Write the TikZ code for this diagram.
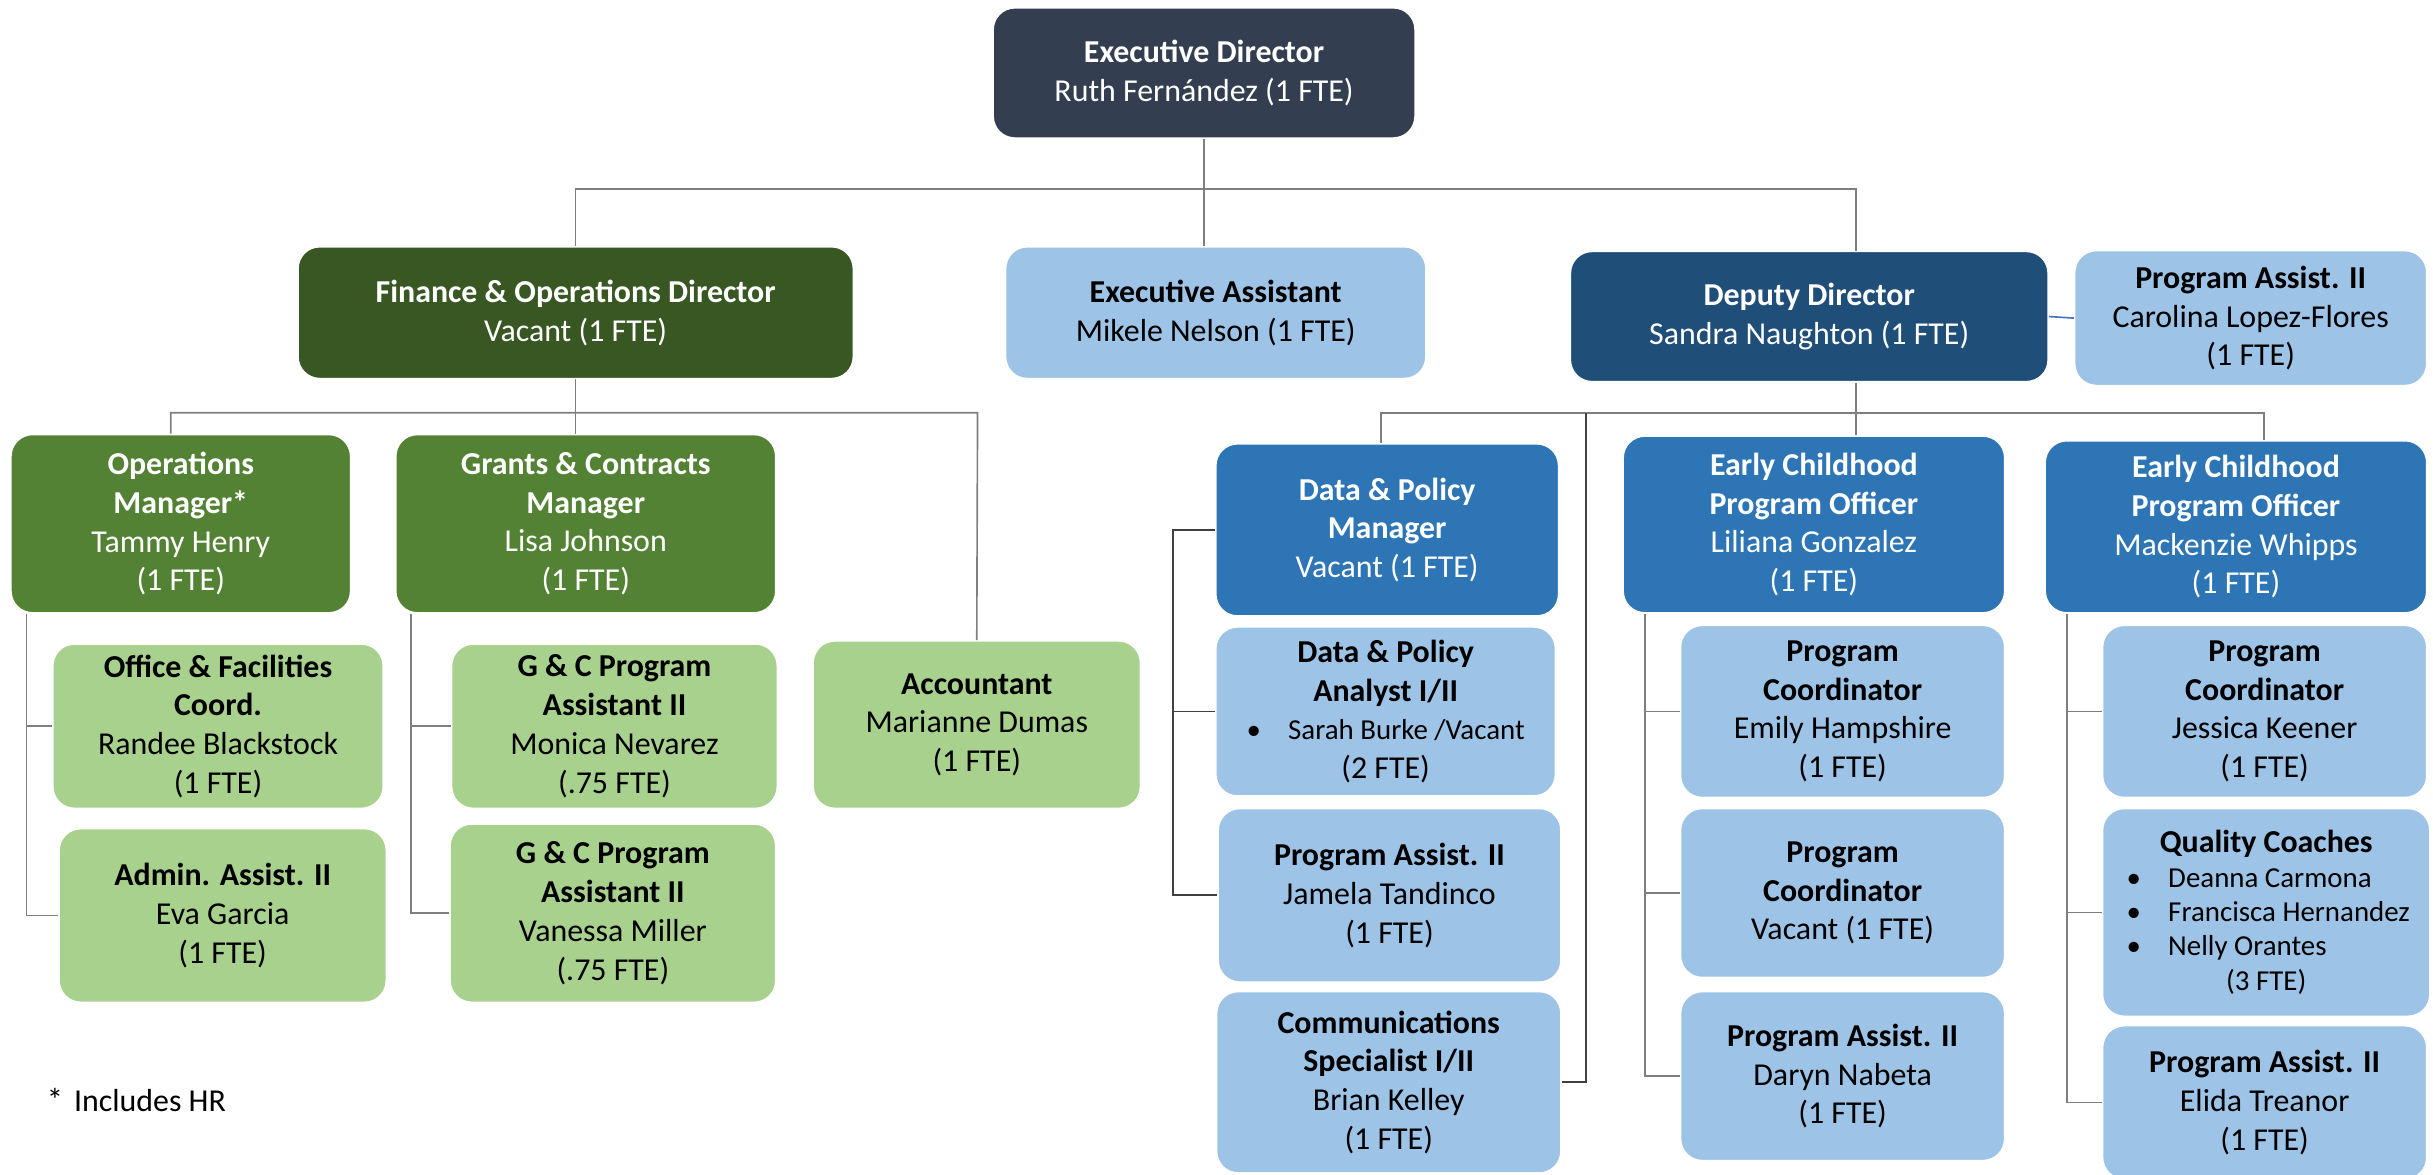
\documentclass[tikz,border=0pt]{standalone}
\usepackage{fontspec}
\setmainfont{Carlito}
\usepackage{tikz}

\definecolor{edcol}{HTML}{333F50}
\definecolor{fincol}{HTML}{385723}
\definecolor{grcol}{HTML}{548235}
\definecolor{ltgreen}{HTML}{A9D18E}
\definecolor{ddcol}{HTML}{1F4E79}
\definecolor{bluecol}{HTML}{2E75B6}
\definecolor{ltblue}{HTML}{9DC3E6}
\definecolor{linegray}{HTML}{7F7F7F}
\definecolor{linkblue}{HTML}{4472C4}

\newcommand{\smalltxt}{\fontsize{10.6}{12.2}\selectfont}
\newcommand{\qcitem}[1]{\makebox[3.6cm][l]{\smalltxt\textbullet\hspace{10pt}#1}}

\begin{document}
\begin{tikzpicture}[x=0.02cm, y=-0.02cm,
    box/.style={rounded corners=0.28cm, draw=white, line width=0.6pt, align=center,
        inner sep=0pt, font=\fontsize{11.7}{14.2}\selectfont},
    darkbox/.style={box, text=white},
    lightbox/.style={box, text=black},
    conn/.style={draw=linegray, line width=0.6pt},
    dconn/.style={draw=black!75, line width=0.6pt}]
    \useasboundingbox (0,0) rectangle (1568,757);

    \coordinate (t2) at (1196,122);
    \coordinate (f1) at (110,266);
    \coordinate (f2) at (630,266);
    \coordinate (o1) at (17,0);
    \coordinate (g1) at (265,0);
    \coordinate (d1) at (890,266);
    \coordinate (d2) at (1459,266);
    \coordinate (d3) at (1022,266);
    \coordinate (p1) at (756,0);
    \coordinate (e1) at (1060,0);
    \coordinate (e2) at (1332,0);

%top
    \node[darkbox, fill=edcol, minimum width=5.44cm, minimum height=1.68cm] (ed) at (776,47)
        {\textbf{Executive Director}\\Ruth Fernández (1 FTE)};
    \node[darkbox, fill=fincol, minimum width=7.16cm, minimum height=1.70cm] (fod) at (371,201.5)
        {\textbf{Finance \& Operations Director}\\Vacant (1 FTE)};
    \node[lightbox, fill=ltblue, minimum width=5.42cm, minimum height=1.70cm] (ea) at (783.5,201.5)
        {\textbf{Executive Assistant}\\Mikele Nelson (1 FTE)};
    \node[darkbox, fill=ddcol, minimum width=6.16cm, minimum height=1.68cm] (dd) at (1166,204)
        {\textbf{Deputy Director}\\Sandra Naughton (1 FTE)};
    \node[lightbox, fill=ltblue, minimum width=4.54cm, minimum height=1.74cm] (pa1) at (1450.5,205)
        {\textbf{Program Assist. II}\\Carolina Lopez-Flores\\(1 FTE)};

%finance side
    \node[darkbox, fill=grcol, minimum width=4.38cm, minimum height=2.30cm] (om) at (116.5,337.5)
        {\textbf{Operations}\\\textbf{Manager*}\\Tammy Henry\\(1 FTE)};
    \node[darkbox, fill=grcol, minimum width=4.90cm, minimum height=2.30cm] (gcm) at (377.5,337.5)
        {\textbf{Grants \& Contracts}\\\textbf{Manager}\\Lisa Johnson\\(1 FTE)};
    \node[lightbox, fill=ltgreen, minimum width=4.26cm, minimum height=2.12cm] (ofc) at (140.5,468)
        {\textbf{Office \& Facilities}\\\textbf{Coord.}\\Randee Blackstock\\(1 FTE)};
    \node[lightbox, fill=ltgreen, minimum width=4.22cm, minimum height=2.24cm] (aa) at (143.5,590)
        {\textbf{Admin. Assist. II}\\Eva Garcia\\(1 FTE)};
    \node[lightbox, fill=ltgreen, minimum width=4.20cm, minimum height=2.12cm] (gc1) at (396,468)
        {\textbf{G \& C Program}\\\textbf{Assistant II}\\Monica Nevarez\\(.75 FTE)};
    \node[lightbox, fill=ltgreen, minimum width=4.20cm, minimum height=2.30cm] (gc2) at (395,588.5)
        {\textbf{G \& C Program}\\\textbf{Assistant II}\\Vanessa Miller\\(.75 FTE)};
    \node[lightbox, fill=ltgreen, minimum width=4.22cm, minimum height=2.16cm] (acc) at (629.5,467)
        {\textbf{Accountant}\\Marianne Dumas\\(1 FTE)};

%deputy side
    \node[darkbox, fill=bluecol, minimum width=4.42cm, minimum height=2.22cm] (dpm) at (894,341.5)
        {\textbf{Data \& Policy}\\\textbf{Manager}\\Vacant (1 FTE)};
    \node[darkbox, fill=bluecol, minimum width=4.92cm, minimum height=2.28cm] (ecpo1) at (1169,338)
        {\textbf{Early Childhood}\\\textbf{Program Officer}\\Liliana Gonzalez\\(1 FTE)};
    \node[darkbox, fill=bluecol, minimum width=4.92cm, minimum height=2.22cm] (ecpo2) at (1441,339.5)
        {\textbf{Early Childhood}\\\textbf{Program Officer}\\Mackenzie Whipps\\(1 FTE)};
    \node[lightbox, fill=ltblue, minimum width=4.38cm, minimum height=2.18cm] (dpa) at (893,458.5)
        {\textbf{Data \& Policy}\\\textbf{Analyst I/II}\\{\smalltxt\textbullet\hspace{10pt}Sarah Burke /Vacant}\\(2 FTE)};
    \node[lightbox, fill=ltblue, minimum width=4.42cm, minimum height=2.24cm] (pa2) at (895.5,577)
        {\textbf{Program Assist. II}\\Jamela Tandinco\\(1 FTE)};
    \node[lightbox, fill=ltblue, minimum width=4.44cm, minimum height=2.34cm] (cs) at (895,697.5)
        {\textbf{Communications}\\\textbf{Specialist I/II}\\Brian Kelley\\(1 FTE)};
    \node[lightbox, fill=ltblue, minimum width=4.18cm, minimum height=2.22cm] (pc1) at (1187.5,458.5)
        {\textbf{Program}\\\textbf{Coordinator}\\Emily Hampshire\\(1 FTE)};
    \node[lightbox, fill=ltblue, minimum width=4.18cm, minimum height=2.18cm] (pc2) at (1187.5,575.5)
        {\textbf{Program}\\\textbf{Coordinator}\\Vacant (1 FTE)};
    \node[lightbox, fill=ltblue, minimum width=4.18cm, minimum height=2.18cm] (pa3) at (1187.5,693.5)
        {\textbf{Program Assist. II}\\Daryn Nabeta\\(1 FTE)};
    \node[lightbox, fill=ltblue, minimum width=4.18cm, minimum height=2.22cm] (pc3) at (1459.5,458.5)
        {\textbf{Program}\\\textbf{Coordinator}\\Jessica Keener\\(1 FTE)};
    \node[lightbox, fill=ltblue, minimum width=4.22cm, minimum height=2.68cm,
        font=\fontsize{11.7}{12.6}\selectfont] (qc) at (1460.5,588)
        {\textbf{Quality Coaches}\\
         \qcitem{Deanna Carmona}\\
         \qcitem{Francisca Hernandez}\\
         \qcitem{Nelly Orantes}\\
         {\smalltxt(3 FTE)}};
    \node[lightbox, fill=ltblue, minimum width=4.18cm, minimum height=1.98cm] (pa4) at (1459.5,710.5)
        {\textbf{Program Assist. II}\\Elida Treanor\\(1 FTE)};

%lines
    \draw[conn] (ed.south) -- (ed.south |- ea.north);
    \draw[conn] (fod.north) |- (t2) -- (t2 |- dd.north);
    \draw[linkblue, line width=0.6pt] (dd.east) -- (pa1.west);

    \draw[conn] (fod.south) -- (fod.south |- gcm.north);
    \draw[conn] (f1 |- om.north) |- (f2) -- (acc.north);
    \draw[conn] (om.south -| o1) |- (aa.west);
    \draw[conn] (o1 |- ofc.west) -- (ofc.west);
    \draw[conn] (gcm.south -| g1) |- (gc2.west);
    \draw[conn] (g1 |- gc1.west) -- (gc1.west);

    \draw[conn] (t2 |- dd.south) -- (t2 |- ecpo1.north);
    \draw[conn] (d1 |- dpm.north) |- (d2) -- (d2 |- ecpo2.north);
    \draw[dconn] (d3) |- (cs.east);
    \draw[dconn] (dpm.west) -| (p1 |- pa2.west) -- (pa2.west);
    \draw[dconn] (p1 |- dpa.west) -- (dpa.west);
    \draw[conn] (ecpo1.south -| e1) |- (pa3.west);
    \draw[conn] (e1 |- pc1.west) -- (pc1.west);
    \draw[conn] (e1 |- pc2.west) -- (pc2.west);
    \draw[conn] (ecpo2.south -| e2) |- (pa4.west);
    \draw[conn] (e2 |- pc3.west) -- (pc3.west);
    \draw[conn] (e2 |- qc.west) -- (qc.west);

%labels
    \node[anchor=west, font=\fontsize{11.7}{14.2}\selectfont] (note) at (24,709)
        {{\large *}\hspace{4pt}Includes HR};

\end{tikzpicture}
\end{document}
